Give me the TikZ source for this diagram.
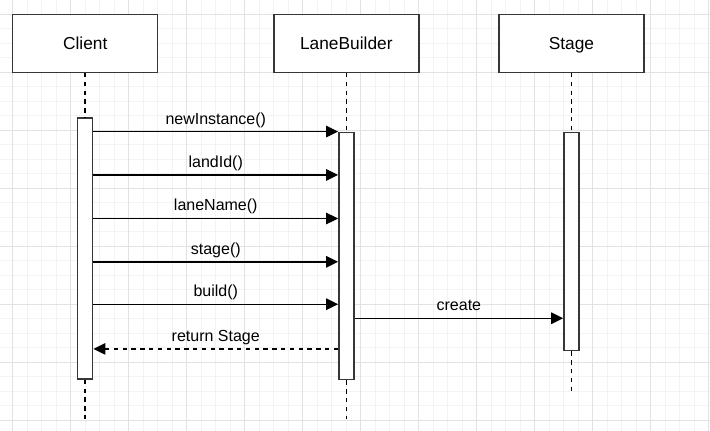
\documentclass[tikz,border=0pt]{standalone}
\usepackage{fontspec}
\setmainfont{Liberation Sans}
\usetikzlibrary{arrows.meta, positioning}
\definecolor{gridminor}{RGB}{243,243,243}
\definecolor{gridmajor}{RGB}{226,226,226}
\definecolor{boxline}{RGB}{54,54,54}
\tikzstyle{actor} = [
    rectangle, 
    minimum width=108.75pt, 
    minimum height=43.5pt,
    text centered, 
    text height=10.9pt,
    text depth=1.2pt,
    draw=boxline, 
    fill=white,
    line width=1.1pt,
    font=\fontsize{13}{15}\selectfont
]
\tikzstyle{activation} = [
    rectangle, 
    minimum width=11.25pt, 
    inner sep=0pt,
    draw=boxline, 
    fill=white,
    line width=1.1pt
]
\tikzstyle{lifeline} = [line width=1.1pt, dash pattern=on 3.3pt off 3.3pt]
\tikzstyle{arrow} = [line width=1.1pt,-{Triangle[length=9pt,width=8.6pt]}]
\tikzstyle{reply} = [arrow, dash pattern=on 3.3pt off 3.3pt]
\tikzstyle{msg} = [above, inner sep=2.6pt, text height=8.8pt, text depth=2.5pt, font=\fontsize{12}{14}\selectfont]

\begin{document}
\begin{tikzpicture}[x=0.75pt, y=0.75pt]

% Grid
\useasboundingbox (0,0) rectangle (710,-431);
\fill[white] (0,0) rectangle (710,-431);
\foreach \i in {0,...,48} {
    \draw[gridminor, line width=0.75pt] ({12.7+14.5*\i},0) -- ({12.7+14.5*\i},-431);
}
\foreach \j in {0,...,28} {
    \draw[gridminor, line width=0.75pt] (0,{-14.3-14.5*\j}) -- (710,{-14.3-14.5*\j});
}
\foreach \i in {0,4,...,48} {
    \draw[gridmajor, line width=0.75pt] ({12.7+14.5*\i},0) -- ({12.7+14.5*\i},-431);
}
\foreach \j in {0,4,...,28} {
    \draw[gridmajor, line width=0.75pt] (0,{-14.3-14.5*\j}) -- (710,{-14.3-14.5*\j});
}

% Nodes
\node (client) [actor] at (85.2,-43.3) {Client};
\node (builder) [actor, right=86pt of client] {LaneBuilder};
\node (stage) [actor, right=59pt of builder] {Stage};

\node (cbar) [activation, minimum height=195.75pt, below=33.2pt of client] {};
\node (lbar) [activation, minimum height=185.5pt, below=43.9pt of builder] {};
\node (sbar) [activation, minimum height=163.7pt, below=43.9pt of stage] {};

\coordinate (cend) at ([yshift=-30pt]cbar.south);
\coordinate (lend) at ([yshift=-29.3pt]lbar.south);
\coordinate (send) at ([yshift=-31.3pt]sbar.south);

% Lifelines
\draw [lifeline] (client) -- (cbar);
\draw [lifeline] (cbar) -- (cend);
\draw [lifeline] (builder) -- (lbar);
\draw [lifeline] (lbar) -- (lend);
\draw [lifeline] (stage) -- (sbar);
\draw [lifeline] (sbar) -- (send);

% Message rows
\coordinate (m1) at (lbar.north);
\coordinate (m2) at ([yshift=-32.5pt]lbar.north);
\coordinate (m3) at ([yshift=-65.2pt]lbar.north);
\coordinate (m4) at ([yshift=-97.7pt]lbar.north);
\coordinate (m5) at ([yshift=-129.5pt]lbar.north);
\coordinate (m6) at ([yshift=-140pt]lbar.north);
\coordinate (m7) at ([yshift=-163pt]lbar.north);

% Arrows
\draw [arrow] (cbar.east |- m1) -- node[msg] {newInstance()} (lbar.west |- m1);
\draw [arrow] (cbar.east |- m2) -- node[msg] {landId()} (lbar.west |- m2);
\draw [arrow] (cbar.east |- m3) -- node[msg] {laneName()} (lbar.west |- m3);
\draw [arrow] (cbar.east |- m4) -- node[msg] {stage()} (lbar.west |- m4);
\draw [arrow] (cbar.east |- m5) -- node[msg] {build()} (lbar.west |- m5);
\draw [arrow] (lbar.east |- m6) -- node[msg] {create} (sbar.west |- m6);
\draw [reply] (lbar.west |- m7) -- node[msg] {return Stage} (cbar.east |- m7);

\end{tikzpicture}
\end{document}
